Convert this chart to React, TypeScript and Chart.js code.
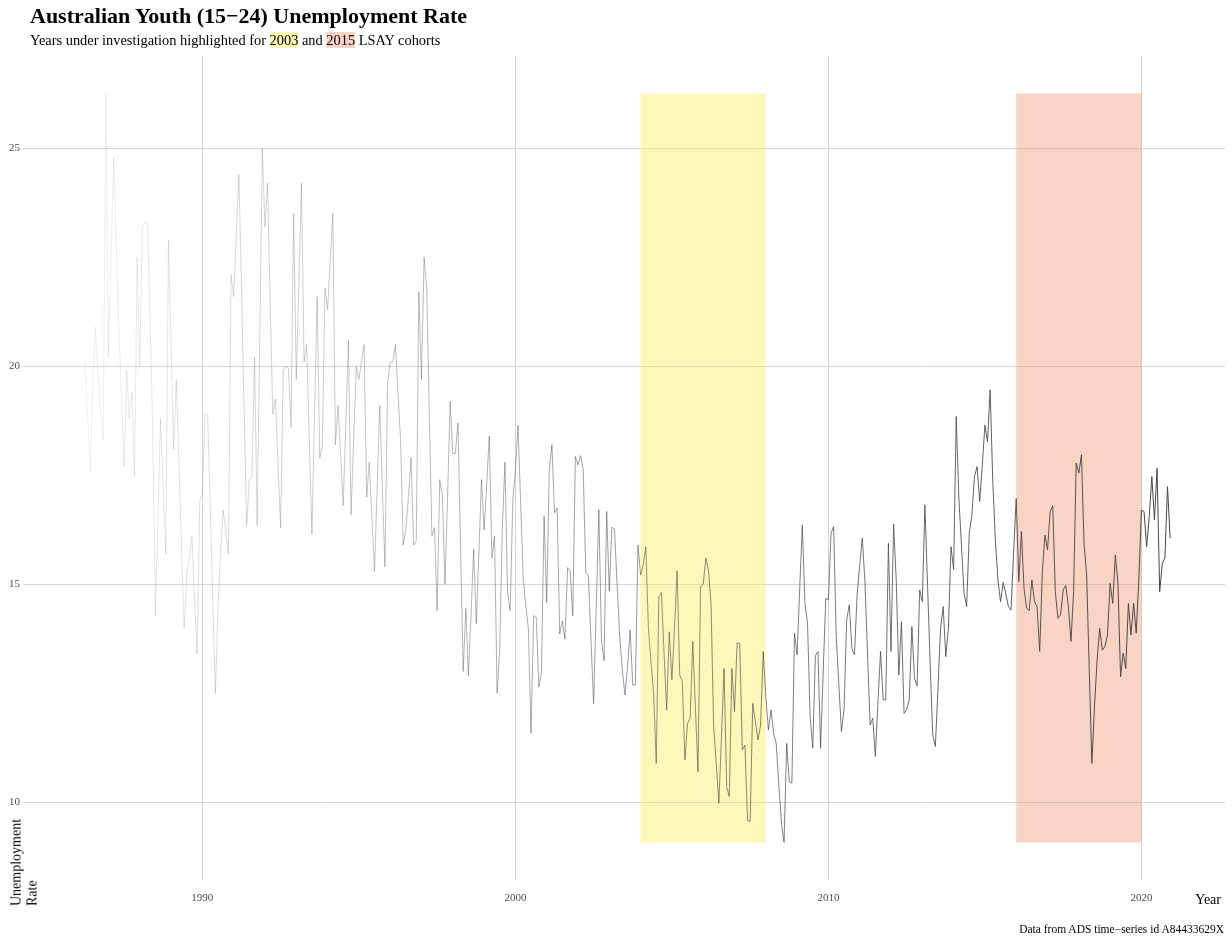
import React, { useEffect, useRef } from "react";
import { Chart, registerables } from "chart.js";

Chart.register(...registerables);

// Monthly youth (15-24) unemployment rate, starting April 1986
const seriesStartYear = 1986;
const seriesStartMonth = 4;

const rate1986to1990 = [
  20.1, 18.9, 17.6, 19.6, 20.9, 19.8, 19.0, 18.3, 26.26, 20.2,
  22.5, 24.8, 22.8, 20.9, 19.2, 17.7, 19.9, 18.8, 19.4, 17.5,
  22.5, 20.0, 23.2, 23.3, 23.3, 21.0, 18.5, 14.3, 16.6, 18.8,
  17.2, 15.7, 22.9, 20.5, 18.1, 19.7, 17.8, 15.9, 14.0, 15.2,
  15.6, 16.1, 14.6, 13.4, 16.9, 17.1, 18.9, 18.9, 16.8, 14.6,
  12.5, 14.5, 15.8, 16.7, 16.2, 15.7, 22.1,
];
const rate1991to1995 = [
  21.6, 23.0, 24.4, 21.8, 19.0, 16.35, 17.4, 17.45, 20.2, 16.35,
  20.6, 25.0, 23.2, 24.2, 21.5, 18.9, 19.25, 17.8, 16.3, 19.9,
  20.0, 19.95, 18.6, 23.5, 19.7, 21.9, 24.2, 20.1, 20.5, 18.3,
  16.15, 18.9, 21.6, 17.9, 18.2, 21.8, 21.3, 22.4, 23.5, 18.2,
  19.1, 18.0, 16.8, 18.7, 20.6, 16.6, 18.3, 20.0, 19.7, 20.1,
  20.5, 17.0, 17.8, 16.5, 15.3, 17.2, 19.1, 17.2, 15.4, 19.6,
];
const rate1996to2000 = [
  20.1, 20.1, 20.5, 19.4, 18.3, 15.9, 16.25, 17.0, 17.9, 15.9,
  16.0, 21.7, 19.7, 22.5, 21.8, 18.9, 16.1, 16.3, 14.4, 17.4,
  17.05, 15.0, 17.0, 19.2, 18.0, 18.0, 18.7, 15.8, 13.0, 14.45,
  12.9, 14.3, 15.8, 14.1, 15.7, 17.4, 16.25, 17.3, 18.4, 15.6,
  16.1, 12.5, 13.5, 16.3, 17.8, 14.8, 14.4, 16.9, 17.6, 18.65,
  16.9, 15.15, 14.5, 13.97, 11.58, 14.28, 14.24, 12.64, 12.98, 16.56,
];
const rate2001to2005 = [
  14.58, 17.63, 18.2, 16.64, 16.75, 13.86, 14.16, 13.74, 15.38, 15.3,
  14.28, 17.93, 17.74, 17.95, 17.63, 15.27, 15.19, 13.7, 12.26, 14.5,
  16.71, 13.71, 13.25, 16.67, 14.85, 16.31, 16.26, 15.0, 13.8, 13.04,
  12.46, 13.11, 13.95, 12.69, 12.69, 15.9, 15.21, 15.44, 15.86, 13.99,
  13.2, 12.5, 10.89, 14.72, 14.81, 13.4, 12.12, 13.91, 12.81, 14.0,
  15.31, 12.92, 12.77, 10.97, 11.81, 11.93, 13.69, 12.2, 10.7, 14.95,
];
const rate2006to2010 = [
  15.0, 15.6, 15.33, 14.56, 11.75, 10.89, 9.98, 11.5, 13.07, 10.36,
  10.13, 13.07, 12.08, 13.65, 13.65, 11.2, 11.31, 9.58, 9.56, 12.27,
  11.85, 11.43, 11.77, 13.46, 12.42, 11.66, 12.12, 11.58, 11.35, 10.4,
  9.52, 9.08, 11.35, 10.47, 10.44, 13.88, 13.38, 14.9, 16.36, 14.56,
  14.1, 11.96, 11.24, 13.36, 13.46, 11.24, 13.0, 14.68, 14.64, 16.17,
  16.32, 13.8, 12.7, 11.62, 12.12, 14.18, 14.53, 13.53, 13.38, 14.76,
];
const rate2011to2015 = [
  15.44, 16.06, 15.06, 13.4, 11.77, 11.93, 11.05, 12.3, 13.46, 12.35,
  12.35, 15.94, 13.46, 16.38, 15.1, 12.92, 14.14, 12.04, 12.12, 12.35,
  14.03, 12.84, 12.67, 14.87, 14.6, 16.82, 15.0, 13.2, 11.54, 11.28,
  12.6, 13.99, 14.49, 13.34, 13.99, 15.86, 15.34, 18.85, 17.01, 15.9,
  14.79, 14.49, 16.17, 16.59, 17.47, 17.7, 16.9, 17.74, 18.65, 18.27,
  19.46, 17.39, 16.02, 15.1, 14.6, 15.04, 14.79, 14.49, 14.41, 15.71,
];
const rate2016to2020 = [
  16.97, 15.06, 16.21, 14.9, 14.45, 14.4, 15.1, 14.6, 14.49, 13.46,
  15.25, 16.13, 15.79, 16.67, 16.8, 14.83, 14.22, 14.3, 14.87, 14.97,
  14.49, 13.69, 14.83, 17.78, 17.55, 17.97, 15.94, 15.21, 13.04, 10.89,
  12.19, 13.26, 13.99, 13.49, 13.57, 13.84, 15.02, 14.56, 15.67, 15.02,
  12.88, 13.42, 13.07, 14.56, 13.84, 14.56, 13.88, 15.1, 16.7, 16.67,
  15.86, 16.55, 17.47, 16.48, 17.66, 14.83, 15.48, 15.6, 17.24, 16.06,
];

const xTickYears = [1990, 2000, 2010, 2020];
const yTickValues = [10, 15, 20, 25];

// Cohort highlight windows
const cohortLabels = ["2003", "2015"];
const cohortStartYears = [2004, 2016];
const cohortEndYears = [2008, 2020];

const SERIF = '"Liberation Serif", "Times New Roman", "DejaVu Serif", serif';
const RECT_COLORS = ["rgba(250,236,80,0.4)", "rgba(240,145,108,0.4)"];
const LABEL_BG = ["#FBF6B5", "#F9D3C4"];
const GRID = "#d5d5d5";
const LINE_RGB = "70,70,70";
const X_AXIS_MIN = 1984.27;
const X_AXIS_MAX = 2022.67;

const allRates = [
  ...rate1986to1990,
  ...rate1991to1995,
  ...rate1996to2000,
  ...rate2001to2005,
  ...rate2006to2010,
  ...rate2011to2015,
  ...rate2016to2020,
];

export default function App() {
  const canvasRef = useRef<HTMLCanvasElement | null>(null);

  useEffect(() => {
    document.body.style.margin = "0";
    const canvas = canvasRef.current;
    if (!canvas) return;

    const points = allRates.map((v, i) => ({
      x: seriesStartYear + (seriesStartMonth - 1 + i) / 12,
      y: v,
    }));
    const n = points.length;
    const dataMin = Math.min(...allRates);
    const dataMax = Math.max(...allRates);
    const pad = (dataMax - dataMin) * 0.05;
    const alphaAt = (i: number) => 0.08 + (0.92 * i) / (n - 1);

    const rectPlugin = {
      id: "cohortRects",
      beforeDatasetsDraw(chart: any) {
        const { ctx, scales } = chart;
        const xs = scales.x;
        const ys = scales.y;
        ctx.save();
        cohortStartYears.forEach((s, k) => {
          const x0 = xs.getPixelForValue(s);
          const x1 = xs.getPixelForValue(cohortEndYears[k]);
          const y0 = ys.getPixelForValue(dataMax);
          const y1 = ys.getPixelForValue(dataMin);
          ctx.fillStyle = RECT_COLORS[k];
          ctx.fillRect(x0, y0, x1 - x0, y1 - y0);
        });
        ctx.restore();
      },
    };

    const tickFont = { family: SERIF, size: 11 };

    const chart = new Chart(canvas, {
      type: "line",
      data: {
        datasets: [
          {
            data: points,
            borderColor: `rgba(${LINE_RGB},1)`,
            borderWidth: 1,
            pointRadius: 0,
            tension: 0,
            fill: false,
            segment: {
              borderColor: (c: any) => `rgba(${LINE_RGB},${alphaAt(c.p0DataIndex)})`,
            },
          },
        ],
      },
      options: {
        animation: false,
        responsive: false,
        devicePixelRatio: 1,
        parsing: false,
        normalized: true,
        layout: { padding: { left: 6, right: 7, top: 56, bottom: 23 } },
        plugins: {
          legend: { display: false },
          tooltip: { enabled: false },
          title: { display: false },
        },
        scales: {
          x: {
            type: "linear",
            min: X_AXIS_MIN,
            max: X_AXIS_MAX,
            grid: { color: GRID, lineWidth: 1, drawTicks: false },
            border: { display: false },
            ticks: {
              font: tickFont,
              color: "#4d4d4d",
              padding: 12,
              maxRotation: 0,
              autoSkip: false,
              callback: (v: any) => String(v),
            },
            afterBuildTicks: (s: any) => {
              s.ticks = xTickYears.map((v) => ({ value: v }));
            },
          },
          y: {
            type: "linear",
            min: dataMin - pad,
            max: dataMax + pad,
            grid: { color: GRID, lineWidth: 1, drawTicks: false },
            border: { display: false },
            ticks: {
              font: tickFont,
              color: "#4d4d4d",
              padding: 3,
              autoSkip: false,
              callback: (v: any) => String(v),
            },
            afterBuildTicks: (s: any) => {
              s.ticks = yTickValues.map((v) => ({ value: v }));
            },
          },
        },
      } as any,
      plugins: [rectPlugin],
    });

    return () => chart.destroy();
  }, []);

  return (
    <div
      style={{
        position: "relative",
        width: 1232,
        height: 940,
        background: "#ffffff",
        fontFamily: SERIF,
        color: "#000",
        overflow: "hidden",
      }}
    >
      <canvas
        ref={canvasRef}
        width={1232}
        height={940}
        style={{ position: "absolute", left: 0, top: 0, width: 1232, height: 940, display: "block" }}
      />
      <div
        style={{
          position: "absolute",
          left: 30,
          top: 5,
          fontSize: 22,
          lineHeight: "22px",
          fontWeight: 700,
          whiteSpace: "nowrap",
        }}
      >
        Australian Youth (15−24) Unemployment Rate
      </div>
      <div
        style={{
          position: "absolute",
          left: 30,
          top: 33,
          fontSize: 14.4,
          lineHeight: "15px",
          whiteSpace: "nowrap",
        }}
      >
        Years under investigation highlighted for{" "}
        <span style={{ background: LABEL_BG[0] }}>{cohortLabels[0]}</span> and{" "}
        <span style={{ background: LABEL_BG[1] }}>{cohortLabels[1]}</span> LSAY cohorts
      </div>
      <div
        style={{
          position: "absolute",
          right: 11,
          top: 893,
          fontSize: 14,
          lineHeight: "14px",
          whiteSpace: "nowrap",
        }}
      >
        Year
      </div>
      <div
        style={{
          position: "absolute",
          left: 0,
          top: 0,
          transformOrigin: "0 0",
          transform: "translate(8.5px, 906px) rotate(-90deg)",
          fontSize: 14,
          lineHeight: "16px",
          whiteSpace: "pre",
        }}
      >
        {"Unemployment\nRate"}
      </div>
      <div
        style={{
          position: "absolute",
          right: 8,
          top: 923,
          fontSize: 11.5,
          lineHeight: "12px",
          whiteSpace: "nowrap",
        }}
      >
        Data from ADS time−series id A84433629X
      </div>
    </div>
  );
}
